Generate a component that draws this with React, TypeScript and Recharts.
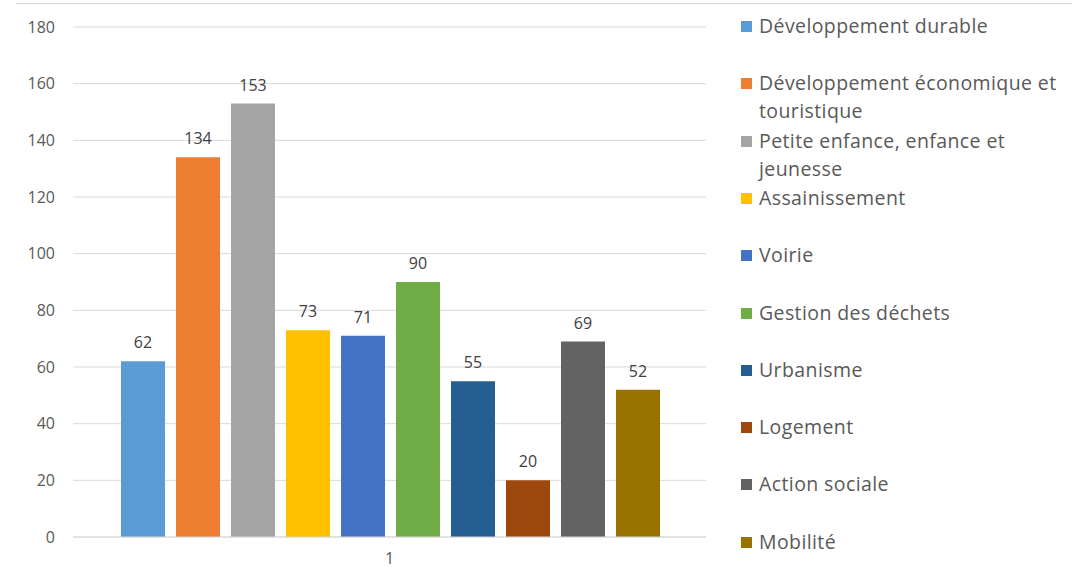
import { BarChart, Bar, XAxis, YAxis, CartesianGrid, Legend, LabelList } from "recharts"

const categories = ["1"]

const seriesNames = [
  "Développement durable",
  "Développement économique et touristique",
  "Petite enfance, enfance et jeunesse",
  "Assainissement",
  "Voirie",
  "Gestion des déchets",
  "Urbanisme",
  "Logement",
  "Action sociale",
  "Mobilité",
]

const seriesValues = [62, 134, 153, 73, 71, 90, 55, 20, 69, 52]

const yTicks = [0, 20, 40, 60, 80, 100, 120, 140, 160, 180]

const COLORS = [
  "#5b9bd5",
  "#ed7d31",
  "#a5a5a5",
  "#ffc000",
  "#4472c4",
  "#70ad47",
  "#255e91",
  "#9e480e",
  "#636363",
  "#997300",
]

const data = categories.map((cat) => {
  const row: Record<string, string | number> = { name: cat }
  seriesNames.forEach((_, i) => {
    row[`s${i}`] = seriesValues[i]
  })
  return row
})

// keep the series order (recharts sorts the payload by name)
const renderLegend = () => {
  return (
    <div style={{ position: "relative", width: 340, height: 560 }}>
      {seriesNames.map((name, index) => (
        <div
          key={`legend-${index}`}
          style={{
            position: "absolute",
            top: index * 57.3,
            left: 0,
            display: "flex",
            alignItems: "flex-start",
          }}
        >
          <span
            style={{
              display: "inline-block",
              flex: "none",
              width: 11,
              height: 11,
              marginTop: 9,
              marginRight: 7,
              background: COLORS[index],
            }}
          />
          <span
            style={{
              width: 308,
              lineHeight: "28px",
              fontSize: 19.5,
              letterSpacing: 0.4,
              color: "#595959",
            }}
          >
            {name}
          </span>
        </div>
      ))}
    </div>
  )
}

export default function App() {
  return (
    <div
      style={{
        position: "absolute",
        left: 0,
        top: 0,
        width: 1089,
        height: 569,
        background: "#fff",
        fontFamily: "'Open Sans', sans-serif",
      }}
    >
      <div style={{ position: "absolute", left: 16, top: 3, width: 1056, height: 1, background: "#d9d9d9" }} />
      <BarChart
        width={1089}
        height={569}
        data={data}
        margin={{ top: 27, right: 43, bottom: 0, left: 0 }}
        barCategoryGap={48}
        barGap={11}
      >
        <CartesianGrid vertical={false} stroke="#d9d9d9" strokeWidth={1} />
        <XAxis
          dataKey="name"
          height={32}
          axisLine={{ stroke: "#d9d9d9" }}
          tickLine={false}
          tickSize={0}
          tickMargin={16}
          tick={{ fill: "#595959", fontSize: 16 }}
        />
        <YAxis
          width={73}
          domain={[0, 180]}
          ticks={yTicks}
          axisLine={false}
          tickLine={false}
          tickSize={0}
          tickMargin={18}
          tick={{ fill: "#595959", fontSize: 16 }}
        />
        <Legend
          layout="vertical"
          align="right"
          verticalAlign="top"
          content={renderLegend}
          wrapperStyle={{ left: 741, top: 12, width: 340 }}
        />
        {seriesNames.map((name, i) => (
          <Bar key={name} dataKey={`s${i}`} name={name} fill={COLORS[i]} isAnimationActive={false}>
            <LabelList dataKey={`s${i}`} position="top" offset={13} fill="#404040" fontSize={16} />
          </Bar>
        ))}
      </BarChart>
    </div>
  )
}
